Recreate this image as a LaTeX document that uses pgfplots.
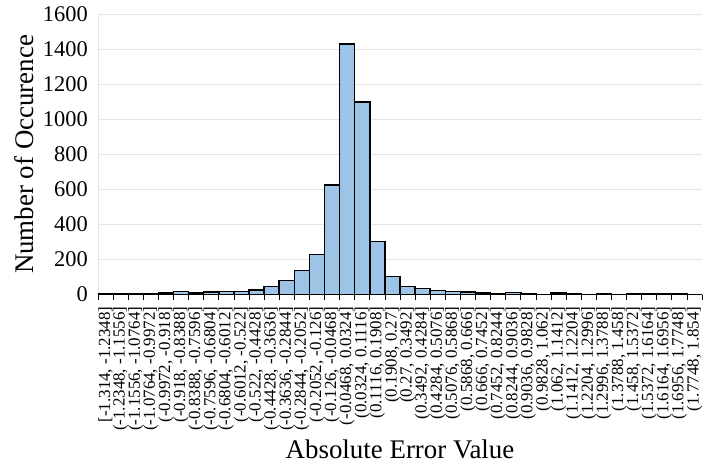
\documentclass[border=0pt]{standalone}
\usepackage{pgfplots}
\pgfplotsset{compat=1.18}
\usepackage{fontspec}
\setmainfont{Liberation Serif}

\definecolor{barblue}{RGB}{157,195,230}
\definecolor{gridgray}{RGB}{228,228,228}

% histogram counts for the 40 bins of the absolute error
\pgfplotstableread{
idx count
0 2
1 2
2 2
3 2
4 8
5 16
6 8
7 14
8 17
9 17
10 25
11 45
12 80
13 138
14 228
15 626
16 1430
17 1099
18 303
19 104
20 45
21 33
22 22
23 18
24 14
25 10
26 5
27 11
28 5
29 1
30 8
31 4
32 1
33 6
34 1
35 6
36 6
37 6
38 6
39 1
}\histdata

\begin{document}
\begin{tikzpicture}
\useasboundingbox (-98bp,-173.5bp) rectangle (618bp,294.5bp);
\begin{axis}[
  at={(0,0)}, anchor=south west,
  scale only axis,
  width=604bp, height=280bp,
  xmin=-0.5, xmax=39.5,
  ymin=0, ymax=1600,
  ytick={0,200,...,1600},
  axis x line*=bottom,
  axis y line*=left,
  x axis line style={black, line width=1.6bp, -},
  y axis line style={gridgray, line width=0.8bp, -},
  ymajorgrids,
  grid style={gridgray, line width=0.8bp},
  ytick style={draw=none},
  xtick={-0.5,0.5,...,39.5},
  x tick label as interval,
  xtick style={draw=black, line width=0.8bp},
  tick align=outside,
  major tick length=5bp,
  xticklabels={{[-1.314, -1.2348]},{(-1.2348, -1.1556]},{(-1.1556, -1.0764]},
    {(-1.0764, -0.9972]},{(-0.9972, -0.918]},{(-0.918, -0.8388]},
    {(-0.8388, -0.7596]},{(-0.7596, -0.6804]},{(-0.6804, -0.6012]},
    {(-0.6012, -0.522]},{(-0.522, -0.4428]},{(-0.4428, -0.3636]},
    {(-0.3636, -0.2844]},{(-0.2844, -0.2052]},{(-0.2052, -0.126]},
    {(-0.126, -0.0468]},{(-0.0468, 0.0324]},{(0.0324, 0.1116]},
    {(0.1116, 0.1908]},{(0.1908, 0.27]},{(0.27, 0.3492]},
    {(0.3492, 0.4284]},{(0.4284, 0.5076]},{(0.5076, 0.5868]},
    {(0.5868, 0.666]},{(0.666, 0.7452]},{(0.7452, 0.8244]},
    {(0.8244, 0.9036]},{(0.9036, 0.9828]},{(0.9828, 1.062]},
    {(1.062, 1.1412]},{(1.1412, 1.2204]},{(1.2204, 1.2996]},
    {(1.2996, 1.3788]},{(1.3788, 1.458]},{(1.458, 1.5372]},
    {(1.5372, 1.6164]},{(1.6164, 1.6956]},{(1.6956, 1.7748]},
    {(1.7748, 1.854]}},
  xticklabel style={yshift=-7bp, rotate=90, anchor=east, inner sep=0pt,
    font=\fontsize{17}{18}\selectfont},
  yticklabel style={anchor=east, inner sep=0pt, xshift=-5bp,
    font=\fontsize{22.5}{24}\selectfont},
  /pgf/number format/assume math mode=true,
  /pgf/number format/set thousands separator={},
  xlabel={Absolute Error Value},
  ylabel={Number of Occurence},
  xlabel style={at={(rel axis cs:0.5,-0.518)}, anchor=north, inner sep=0pt,
    font=\fontsize{27}{29}\selectfont},
  ylabel style={at={(rel axis cs:-0.1225,0.5)}, anchor=center,
    inner sep=0pt, font=\fontsize{27}{29}\selectfont},
]
\addplot[ybar, bar width=1, fill=barblue, draw=black, line width=1.5bp]
  table[x=idx, y=count] {\histdata};
\end{axis}
\end{tikzpicture}
\end{document}
